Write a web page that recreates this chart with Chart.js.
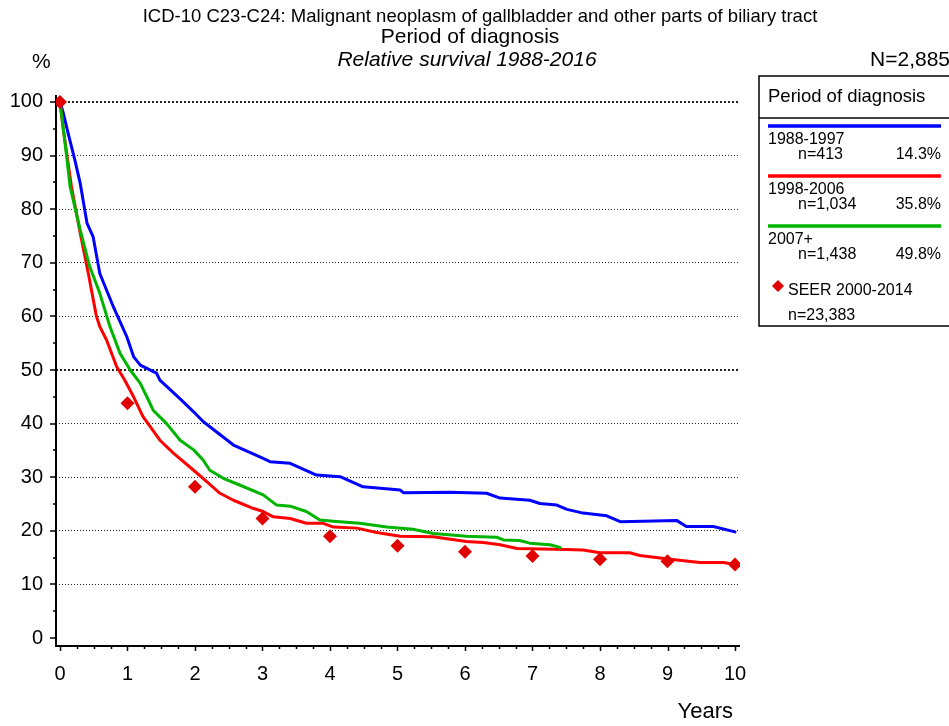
<!DOCTYPE html>
<html>
<head>
<meta charset="utf-8">
<title>Relative survival by period of diagnosis</title>
<script src="https://cdn.jsdelivr.net/npm/chart.js@4.4.0/dist/chart.umd.min.js"></script>
<style>
  html, body { margin: 0; padding: 0; background: #fff; }
  #wrap { width: 949px; height: 726px; }
</style>
</head>
<body>
<div id="wrap"><canvas id="survivalChart" width="949" height="726"></canvas></div>
<script>
// years since diagnosis / relative survival (%) for each diagnosis period
const years8897 = [0, 0.05, 0.12, 0.22, 0.30, 0.40, 0.49, 0.59, 0.79, 0.99, 1.09, 1.19, 1.43, 1.48, 1.78, 1.98, 2.12, 2.57, 3.01, 3.11, 3.41, 3.80, 4.15, 4.49, 5.04, 5.09, 5.78, 6.32, 6.52, 6.96, 7.11, 7.36, 7.51, 7.75, 8.10, 8.30, 9.14, 9.28, 9.68, 10];
const surv8897  = [100, 97.9, 94.2, 89.2, 84.8, 77.4, 74.9, 68.0, 61.8, 56.2, 52.5, 50.9, 49.4, 48.1, 44.6, 42.2, 40.4, 36.0, 33.5, 32.9, 32.6, 30.4, 30.1, 28.2, 27.6, 27.1, 27.2, 27.0, 26.1, 25.7, 25.1, 24.8, 24.0, 23.3, 22.8, 21.7, 21.9, 20.8, 20.8, 19.8];

const years9806 = [0, 0.05, 0.17, 0.30, 0.42, 0.54, 0.59, 0.69, 0.84, 0.96, 1.09, 1.23, 1.48, 1.68, 1.98, 2.17, 2.37, 2.57, 2.86, 3.01, 3.16, 3.41, 3.65, 3.90, 4.05, 4.40, 4.69, 5.04, 5.53, 6.02, 6.27, 6.52, 6.77, 7.51, 7.75, 8.00, 8.44, 8.59, 9.04, 9.48, 9.83, 10];
const surv9806  = [100, 94.8, 84.2, 75.5, 68.0, 60.0, 58.1, 55.6, 50.6, 48.1, 45.0, 41.3, 36.9, 34.5, 31.3, 29.2, 27.0, 25.7, 24.2, 23.6, 22.6, 22.3, 21.4, 21.4, 20.7, 20.5, 19.7, 19.0, 18.9, 18.0, 17.8, 17.4, 16.7, 16.5, 16.4, 15.9, 15.9, 15.4, 14.7, 14.1, 14.1, 13.7];

const years07 = [0, 0.07, 0.15, 0.30, 0.44, 0.59, 0.74, 0.89, 1.04, 1.19, 1.31, 1.38, 1.58, 1.78, 1.98, 2.12, 2.22, 2.42, 2.67, 3.01, 3.21, 3.41, 3.65, 3.85, 4.05, 4.44, 4.84, 5.23, 5.53, 6.02, 6.47, 6.57, 6.81, 6.96, 7.26, 7.41];
const surv07  = [100, 92.9, 84.2, 76.1, 69.3, 64.3, 58.1, 53.1, 50.0, 47.5, 44.4, 42.5, 40.0, 36.9, 35.1, 33.2, 31.3, 29.8, 28.5, 26.7, 24.8, 24.6, 23.6, 22.0, 21.8, 21.4, 20.7, 20.3, 19.5, 19.0, 18.8, 18.3, 18.2, 17.7, 17.4, 16.9];

// SEER reference points, one per full year
const seerYears = [0, 1, 2, 3, 4, 5, 6, 7, 8, 9, 10];
const seerSurv  = [100, 43.8, 28.2, 22.3, 19.0, 17.2, 16.1, 15.3, 14.7, 14.3, 13.7];

const periodLabels = ['1988-1997', '1998-2006', '2007+'];
const periodCounts = [413, 1034, 1438];
const periodShares = [14.3, 35.8, 49.8];
const seerLabel = 'SEER 2000-2014';
const seerCount = 23383;
const totalCount = 2885;

const yearTicks = [0, 1, 2, 3, 4, 5, 6, 7, 8, 9, 10];
const percentTicks = [0, 10, 20, 30, 40, 50, 60, 70, 80, 90, 100];

const FONT = '"Liberation Sans", Arial, sans-serif';
const colors = ['#0000ff', '#ff0000', '#00b400'];
const seerColor = '#e00000';

const toPoints = (xs, ys) => xs.map((x, i) => ({ x: x, y: ys[i] }));
const fmt = n => n.toLocaleString('en-US');

// minor ticks: quarter years on x, 5 % steps on y
const xAllTicks = [];
for (let v = yearTicks[0]; v <= yearTicks[yearTicks.length - 1]; v += 0.25) xAllTicks.push(v);
const yAllTicks = [];
for (let v = percentTicks[0]; v <= percentTicks[percentTicks.length - 1]; v += 5) yAllTicks.push(v);

const axesPlugin = {
  id: 'axes',
  beforeDatasetsDraw(chart) {
    const { ctx, chartArea: a, scales: { x, y } } = chart;
    ctx.save();
    ctx.strokeStyle = '#000';
    ctx.lineWidth = 2;
    ctx.beginPath();
    ctx.moveTo(a.left, a.top);
    ctx.lineTo(a.left, a.bottom);
    ctx.lineTo(a.right, a.bottom);
    ctx.stroke();
    ctx.lineWidth = 1.5;
    ctx.beginPath();
    y.ticks.forEach(t => {
      const py = Math.round(y.getPixelForValue(t.value));
      const len = t.value % 10 === 0 ? 6 : 3;
      ctx.moveTo(a.left - len, py);
      ctx.lineTo(a.left, py);
    });
    x.ticks.forEach(t => {
      const px = Math.round(x.getPixelForValue(t.value)) + 0.5;
      const len = Number.isInteger(t.value) ? 5 : 3;
      ctx.moveTo(px, a.bottom);
      ctx.lineTo(px, a.bottom + len);
    });
    ctx.stroke();
    ctx.restore();
  }
};

const textPlugin = {
  id: 'texts',
  afterDraw(chart) {
    const ctx = chart.ctx;
    const sets = chart.data.datasets;
    ctx.save();
    ctx.fillStyle = '#000';
    ctx.textBaseline = 'middle';

    // titles
    ctx.textAlign = 'center';
    ctx.font = '18.5px ' + FONT;
    ctx.fillText('ICD-10 C23-C24: Malignant neoplasm of gallbladder and other parts of biliary tract', 480, 17);
    ctx.font = '21px ' + FONT;
    ctx.fillText('Period of diagnosis', 470, 37);
    ctx.font = 'italic 21px ' + FONT;
    ctx.fillText('Relative survival 1988-2016', 467, 60);

    ctx.textAlign = 'left';
    ctx.font = '21px ' + FONT;
    ctx.fillText('%', 32, 62);
    ctx.textAlign = 'right';
    ctx.fillText('N=' + fmt(totalCount), 950, 60);
    ctx.font = '22px ' + FONT;
    ctx.fillText('Years', 733, 712);

    // legend box
    const bx = 759, by = 76, bw = 200, bh = 250;
    ctx.strokeStyle = '#000';
    ctx.lineWidth = 1.5;
    ctx.strokeRect(bx, by, bw, bh);
    ctx.beginPath();
    ctx.moveTo(bx, 118);
    ctx.lineTo(bx + bw, 118);
    ctx.stroke();
    ctx.textAlign = 'left';
    ctx.font = '18.5px ' + FONT;
    ctx.fillText('Period of diagnosis', 768, 97);

    ctx.font = '16px ' + FONT;
    periodLabels.forEach((label, i) => {
      const top = 126 + i * 50;
      ctx.strokeStyle = sets[i].borderColor;
      ctx.lineWidth = 3.5;
      ctx.beginPath();
      ctx.moveTo(768, top);
      ctx.lineTo(941, top);
      ctx.stroke();
      ctx.textAlign = 'left';
      ctx.fillText(label, 768, top + 14);
      ctx.fillText('n=' + fmt(periodCounts[i]), 798, top + 29);
      ctx.textAlign = 'right';
      ctx.fillText(periodShares[i].toFixed(1) + '%', 941, top + 29);
    });

    // SEER entry
    const dx = 778, dy = 286, r = 6;
    ctx.fillStyle = seerColor;
    ctx.beginPath();
    ctx.moveTo(dx, dy - r);
    ctx.lineTo(dx + r, dy);
    ctx.lineTo(dx, dy + r);
    ctx.lineTo(dx - r, dy);
    ctx.closePath();
    ctx.fill();
    ctx.fillStyle = '#000';
    ctx.textAlign = 'left';
    ctx.fillText(seerLabel, 788, 291);
    ctx.fillText('n=' + fmt(seerCount), 788, 316);
    ctx.restore();
  }
};

new Chart(document.getElementById('survivalChart'), {
  type: 'line',
  data: {
    datasets: [
      { label: periodLabels[0], data: toPoints(years8897, surv8897), borderColor: colors[0], borderWidth: 3, pointRadius: 0, order: 3 },
      { label: periodLabels[1], data: toPoints(years9806, surv9806), borderColor: colors[1], borderWidth: 3, pointRadius: 0, order: 2 },
      { label: periodLabels[2], data: toPoints(years07, surv07), borderColor: colors[2], borderWidth: 3, pointRadius: 0, order: 1 },
      { label: seerLabel, data: toPoints(seerYears, seerSurv), showLine: false, pointStyle: 'rectRot',
        pointRadius: 7, pointBackgroundColor: seerColor, pointBorderColor: seerColor, pointBorderWidth: 0, order: 0 }
    ]
  },
  options: {
    responsive: false,
    animation: false,
    layout: { padding: { top: 95, left: 0, right: 209, bottom: 0 } },
    plugins: { legend: { display: false }, tooltip: { enabled: false }, title: { display: false } },
    elements: { line: { tension: 0, borderJoinStyle: 'round', borderCapStyle: 'round' } },
    scales: {
      x: {
        type: 'linear',
        min: -0.059,
        max: 10.074,
        afterBuildTicks: s => { s.ticks = xAllTicks.map(v => ({ value: v })); },
        afterFit: s => { s.height = 80; },
        grid: { drawOnChartArea: false, drawTicks: false },
        border: { display: false },
        ticks: {
          autoSkip: false,
          maxRotation: 0,
          padding: 16,
          color: '#000',
          font: { family: FONT, size: 20 },
          callback: v => yearTicks.includes(v) ? String(v) : ''
        }
      },
      y: {
        min: -1.49,
        max: 101.3,
        afterBuildTicks: s => { s.ticks = yAllTicks.map(v => ({ value: v })); },
        afterFit: s => { s.width = 56; },
        grid: {
          drawTicks: false,
          color: c => (c.tick && c.tick.value > 0 && percentTicks.includes(c.tick.value)) ? '#222' : 'rgba(0,0,0,0)',
          lineWidth: c => (c.tick && (c.tick.value === 100 || c.tick.value === 50)) ? 2 : 1
        },
        border: {
          display: false,
          dash: c => (c.tick && (c.tick.value === 100 || c.tick.value === 50)) ? [2, 2] : [1, 2]
        },
        ticks: {
          padding: 13,
          color: '#000',
          font: { family: FONT, size: 20 },
          callback: v => percentTicks.includes(v) ? String(v) : ''
        }
      }
    }
  },
  plugins: [axesPlugin, textPlugin]
});
</script>
</body>
</html>
